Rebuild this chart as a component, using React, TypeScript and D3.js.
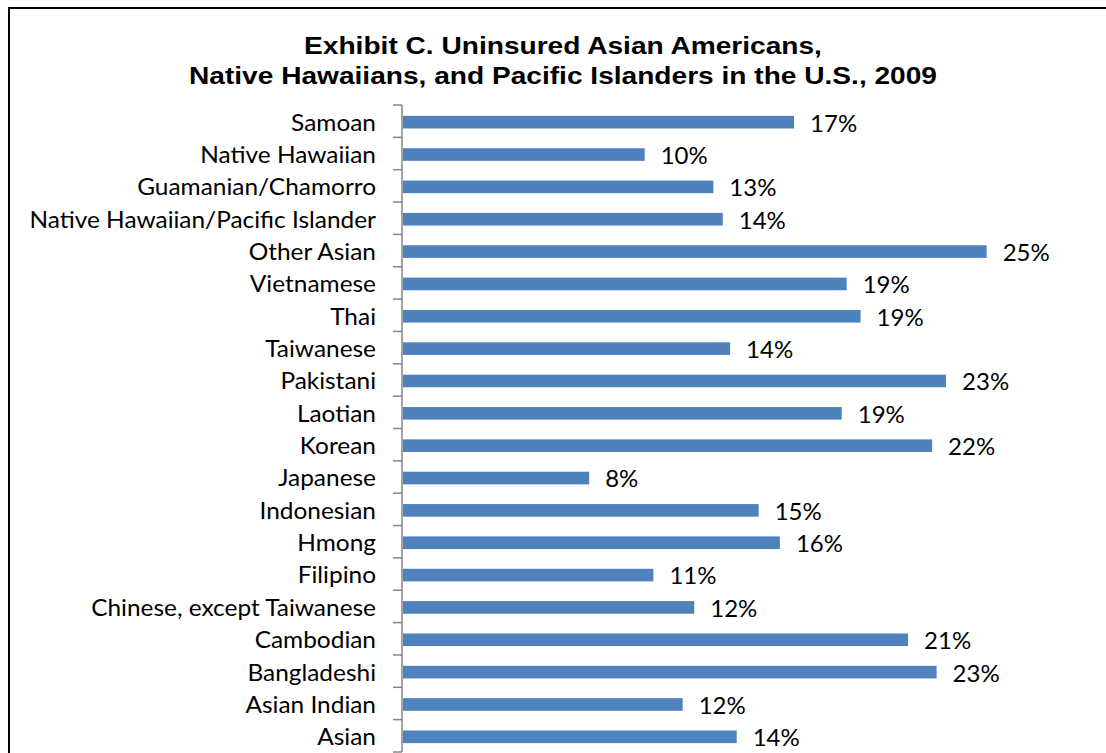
import React from 'react';
import * as d3 from 'd3';

// top-to-bottom order, as shown in the chart
const groups = [
  'Samoan', 'Native Hawaiian', 'Guamanian/Chamorro', 'Native Hawaiian/Pacific Islander',
  'Other Asian', 'Vietnamese', 'Thai', 'Taiwanese', 'Pakistani', 'Laotian', 'Korean',
  'Japanese', 'Indonesian', 'Hmong', 'Filipino', 'Chinese, except Taiwanese',
  'Cambodian', 'Bangladeshi', 'Asian Indian', 'Asian',
];
const uninsured = [
  0.1657, 0.1024, 0.1315, 0.1355, 0.2473, 0.188, 0.1939, 0.1386, 0.2301, 0.1859,
  0.2242, 0.0789, 0.1507, 0.1597, 0.1061, 0.1234, 0.214, 0.2261, 0.1185, 0.1414,
];
const titleLines = [
  'Exhibit C. Uninsured Asian Americans,',
  'Native Hawaiians, and Pacific Islanders in the U.S., 2009',
];

const W = 1106;
const H = 753;
const plot = { left: 403, top: 105, bottom: 752 };
const labelFont = 'Lato, "Open Sans", sans-serif';
// the source picture is stretched a bit sideways, so text is widened to match
const titleStretch = 1.222;
const labelStretch = 1.018;

export default function App() {
  const x = d3.scaleLinear().domain([0, 0.3]).range([plot.left, plot.left + 708]);
  const y = d3.scaleBand().domain(groups).range([plot.top, plot.bottom]).padding(0);
  const yBar = d3.scaleBand().domain(groups).range([plot.top + 1, plot.bottom + 1])
    .paddingInner(0.61).paddingOuter(0.305);
  const pct = d3.format('.0%');
  const step = y.step();

  return (
    <svg width={W} height={H} style={{ position: 'absolute', left: 0, top: 0, background: '#fff' }}>
      <rect x={9} y={8} width={W + 20} height={H + 20} fill="#fff" stroke="#000" strokeWidth={2} />

      <g fontFamily='"Liberation Sans", Arial, sans-serif' fontWeight="bold" fontSize={23} textAnchor="middle">
        {titleLines.map((t, i) => (
          <text key={i} transform={`translate(563,${54 + i * 30}) scale(${titleStretch},1)`}>{t}</text>
        ))}
      </g>

      {groups.map((g, i) => (
        <rect key={g} x={x(0)} y={yBar(g)} width={x(uninsured[i]) - x(0)} height={yBar.bandwidth()} fill="#4f81bd" />
      ))}

      <g stroke="#868686" strokeWidth={1.5}>
        <line x1={402} x2={402} y1={plot.top} y2={plot.bottom} />
        {d3.range(groups.length + 1).map(k => (
          <line key={k} x1={393} x2={402} y1={plot.top + k * step} y2={plot.top + k * step} />
        ))}
      </g>

      <g fontFamily={labelFont} fontSize={24} fill="#000">
        {groups.map(g => (
          <text key={g} transform={`translate(376,${(y(g) as number) + step / 2 + 1}) scale(${labelStretch},1)`}
            dy="0.35em" textAnchor="end">{g}</text>
        ))}
        {groups.map((g, i) => (
          <text key={g + 'v'} transform={`translate(${x(uninsured[i]) + 16},${(y(g) as number) + step / 2 + 2})`}
            dy="0.35em">{pct(uninsured[i])}</text>
        ))}
      </g>
    </svg>
  );
}
